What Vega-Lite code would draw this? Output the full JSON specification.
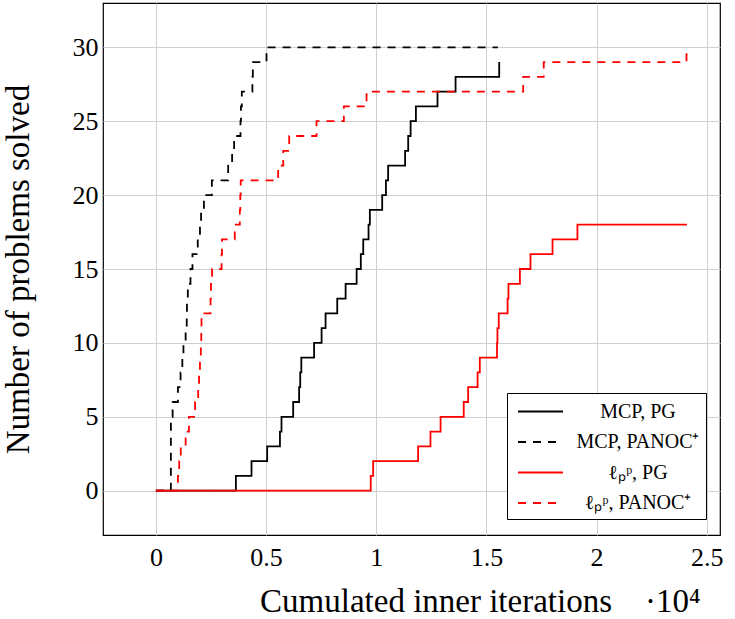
{
  "$schema": "https://vega.github.io/schema/vega-lite/v6.json",
  "width": 617,
  "height": 532,
  "autosize": {"type": "none"},
  "padding": {"left": 103, "top": 3, "right": 15, "bottom": 84},
  "background": "white",
  "config": {
    "font": "Liberation Serif",
    "view": {"stroke": "black", "strokeWidth": 1.2},
    "axis": {
      "grid": true,
      "gridColor": "#cfcfcf",
      "gridWidth": 1,
      "domain": false,
      "ticks": false,
      "labelFont": "Liberation Serif",
      "titleFont": "Liberation Serif",
      "labelFontSize": 26,
      "titleFontSize": 33,
      "titleFontWeight": "normal",
      "labelColor": "black",
      "titleColor": "black"
    },
    "legend": {
      "title": null,
      "orient": "none",
      "legendX": 404,
      "legendY": 390,
      "fillColor": "white",
      "strokeColor": "black",
      "padding": 6,
      "rowPadding": 7.5,
      "symbolType": "M-2,0H2",
      "symbolSize": 506,
      "symbolStrokeWidth": 2,
      "symbolOffset": 15,
      "labelFont": "Liberation Serif",
      "labelFontSize": 20,
      "labelColor": "black",
      "labelAlign": "center",
      "labelOffset": 85,
      "labelLimit": 300
    }
  },
  "data": {
    "values": [
      {"series": "MCP, PG", "x": 0, "y": 0},
      {"series": "MCP, PG", "x": 0.363, "y": 1},
      {"series": "MCP, PG", "x": 0.434, "y": 2},
      {"series": "MCP, PG", "x": 0.505, "y": 3},
      {"series": "MCP, PG", "x": 0.563, "y": 4},
      {"series": "MCP, PG", "x": 0.570, "y": 5},
      {"series": "MCP, PG", "x": 0.623, "y": 6},
      {"series": "MCP, PG", "x": 0.650, "y": 7},
      {"series": "MCP, PG", "x": 0.655, "y": 8},
      {"series": "MCP, PG", "x": 0.660, "y": 9},
      {"series": "MCP, PG", "x": 0.718, "y": 10},
      {"series": "MCP, PG", "x": 0.752, "y": 11},
      {"series": "MCP, PG", "x": 0.770, "y": 12},
      {"series": "MCP, PG", "x": 0.823, "y": 13},
      {"series": "MCP, PG", "x": 0.861, "y": 14},
      {"series": "MCP, PG", "x": 0.911, "y": 15},
      {"series": "MCP, PG", "x": 0.930, "y": 16},
      {"series": "MCP, PG", "x": 0.941, "y": 17},
      {"series": "MCP, PG", "x": 0.965, "y": 18},
      {"series": "MCP, PG", "x": 0.971, "y": 19},
      {"series": "MCP, PG", "x": 1.027, "y": 20},
      {"series": "MCP, PG", "x": 1.044, "y": 21},
      {"series": "MCP, PG", "x": 1.054, "y": 22},
      {"series": "MCP, PG", "x": 1.131, "y": 23},
      {"series": "MCP, PG", "x": 1.145, "y": 24},
      {"series": "MCP, PG", "x": 1.156, "y": 25},
      {"series": "MCP, PG", "x": 1.180, "y": 26},
      {"series": "MCP, PG", "x": 1.278, "y": 27},
      {"series": "MCP, PG", "x": 1.360, "y": 28},
      {"series": "MCP, PG", "x": 1.558, "y": 29},

      {"series": "MCP, PANOC⁺", "x": 0, "y": 0},
      {"series": "MCP, PANOC⁺", "x": 0.068, "y": 5},
      {"series": "MCP, PANOC⁺", "x": 0.076, "y": 6},
      {"series": "MCP, PANOC⁺", "x": 0.100, "y": 7},
      {"series": "MCP, PANOC⁺", "x": 0.112, "y": 8},
      {"series": "MCP, PANOC⁺", "x": 0.120, "y": 9},
      {"series": "MCP, PANOC⁺", "x": 0.125, "y": 10},
      {"series": "MCP, PANOC⁺", "x": 0.135, "y": 11},
      {"series": "MCP, PANOC⁺", "x": 0.140, "y": 12},
      {"series": "MCP, PANOC⁺", "x": 0.141, "y": 13},
      {"series": "MCP, PANOC⁺", "x": 0.145, "y": 14},
      {"series": "MCP, PANOC⁺", "x": 0.157, "y": 15},
      {"series": "MCP, PANOC⁺", "x": 0.166, "y": 16},
      {"series": "MCP, PANOC⁺", "x": 0.190, "y": 17},
      {"series": "MCP, PANOC⁺", "x": 0.200, "y": 18},
      {"series": "MCP, PANOC⁺", "x": 0.205, "y": 19},
      {"series": "MCP, PANOC⁺", "x": 0.218, "y": 20},
      {"series": "MCP, PANOC⁺", "x": 0.254, "y": 21},
      {"series": "MCP, PANOC⁺", "x": 0.328, "y": 22},
      {"series": "MCP, PANOC⁺", "x": 0.346, "y": 23},
      {"series": "MCP, PANOC⁺", "x": 0.355, "y": 24},
      {"series": "MCP, PANOC⁺", "x": 0.384, "y": 25},
      {"series": "MCP, PANOC⁺", "x": 0.386, "y": 26},
      {"series": "MCP, PANOC⁺", "x": 0.390, "y": 27},
      {"series": "MCP, PANOC⁺", "x": 0.438, "y": 28},
      {"series": "MCP, PANOC⁺", "x": 0.440, "y": 29},
      {"series": "MCP, PANOC⁺", "x": 0.502, "y": 30},
      {"series": "MCP, PANOC⁺", "x": 1.552, "y": 30},

      {"series": "ℓₚᵖ, PG", "x": 0, "y": 0},
      {"series": "ℓₚᵖ, PG", "x": 0.975, "y": 1},
      {"series": "ℓₚᵖ, PG", "x": 0.986, "y": 2},
      {"series": "ℓₚᵖ, PG", "x": 1.190, "y": 3},
      {"series": "ℓₚᵖ, PG", "x": 1.246, "y": 4},
      {"series": "ℓₚᵖ, PG", "x": 1.292, "y": 5},
      {"series": "ℓₚᵖ, PG", "x": 1.397, "y": 6},
      {"series": "ℓₚᵖ, PG", "x": 1.417, "y": 7},
      {"series": "ℓₚᵖ, PG", "x": 1.460, "y": 8},
      {"series": "ℓₚᵖ, PG", "x": 1.470, "y": 9},
      {"series": "ℓₚᵖ, PG", "x": 1.548, "y": 10},
      {"series": "ℓₚᵖ, PG", "x": 1.550, "y": 11},
      {"series": "ℓₚᵖ, PG", "x": 1.556, "y": 12},
      {"series": "ℓₚᵖ, PG", "x": 1.596, "y": 13},
      {"series": "ℓₚᵖ, PG", "x": 1.600, "y": 14},
      {"series": "ℓₚᵖ, PG", "x": 1.652, "y": 15},
      {"series": "ℓₚᵖ, PG", "x": 1.700, "y": 16},
      {"series": "ℓₚᵖ, PG", "x": 1.800, "y": 17},
      {"series": "ℓₚᵖ, PG", "x": 1.913, "y": 18},
      {"series": "ℓₚᵖ, PG", "x": 2.410, "y": 18},

      {"series": "ℓₚᵖ, PANOC⁺", "x": 0, "y": 0},
      {"series": "ℓₚᵖ, PANOC⁺", "x": 0.100, "y": 1},
      {"series": "ℓₚᵖ, PANOC⁺", "x": 0.106, "y": 2},
      {"series": "ℓₚᵖ, PANOC⁺", "x": 0.113, "y": 3},
      {"series": "ℓₚᵖ, PANOC⁺", "x": 0.135, "y": 4},
      {"series": "ℓₚᵖ, PANOC⁺", "x": 0.150, "y": 5},
      {"series": "ℓₚᵖ, PANOC⁺", "x": 0.178, "y": 6},
      {"series": "ℓₚᵖ, PANOC⁺", "x": 0.192, "y": 7},
      {"series": "ℓₚᵖ, PANOC⁺", "x": 0.196, "y": 8},
      {"series": "ℓₚᵖ, PANOC⁺", "x": 0.200, "y": 9},
      {"series": "ℓₚᵖ, PANOC⁺", "x": 0.204, "y": 10},
      {"series": "ℓₚᵖ, PANOC⁺", "x": 0.206, "y": 11},
      {"series": "ℓₚᵖ, PANOC⁺", "x": 0.207, "y": 12},
      {"series": "ℓₚᵖ, PANOC⁺", "x": 0.248, "y": 13},
      {"series": "ℓₚᵖ, PANOC⁺", "x": 0.250, "y": 14},
      {"series": "ℓₚᵖ, PANOC⁺", "x": 0.255, "y": 15},
      {"series": "ℓₚᵖ, PANOC⁺", "x": 0.298, "y": 16},
      {"series": "ℓₚᵖ, PANOC⁺", "x": 0.300, "y": 17},
      {"series": "ℓₚᵖ, PANOC⁺", "x": 0.358, "y": 18},
      {"series": "ℓₚᵖ, PANOC⁺", "x": 0.381, "y": 19},
      {"series": "ℓₚᵖ, PANOC⁺", "x": 0.383, "y": 20},
      {"series": "ℓₚᵖ, PANOC⁺", "x": 0.385, "y": 21},
      {"series": "ℓₚᵖ, PANOC⁺", "x": 0.555, "y": 22},
      {"series": "ℓₚᵖ, PANOC⁺", "x": 0.578, "y": 23},
      {"series": "ℓₚᵖ, PANOC⁺", "x": 0.605, "y": 24},
      {"series": "ℓₚᵖ, PANOC⁺", "x": 0.729, "y": 25},
      {"series": "ℓₚᵖ, PANOC⁺", "x": 0.853, "y": 26},
      {"series": "ℓₚᵖ, PANOC⁺", "x": 0.956, "y": 27},
      {"series": "ℓₚᵖ, PANOC⁺", "x": 1.667, "y": 28},
      {"series": "ℓₚᵖ, PANOC⁺", "x": 1.760, "y": 29},
      {"series": "ℓₚᵖ, PANOC⁺", "x": 2.408, "y": 30}
    ]
  },
  "mark": {"type": "line", "interpolate": "step-after", "strokeWidth": 1.8, "clip": true},
  "encoding": {
    "x": {
      "field": "x",
      "type": "quantitative",
      "scale": {"domain": [-0.24, 2.56], "nice": false, "zero": false},
      "axis": {
        "values": [0, 0.5, 1, 1.5, 2, 2.5],
        "format": "~g",
        "labelPadding": 9,
        "title": "Cumulated inner iterations\u2003·10⁴",
        "titleAnchor": "end",
        "titleAlign": "right",
        "titleX": 597,
        "titleY": 76,
        "titleBaseline": "alphabetic"
      }
    },
    "y": {
      "field": "y",
      "type": "quantitative",
      "scale": {"domain": [-3, 33], "nice": false, "zero": false},
      "axis": {
        "values": [0, 5, 10, 15, 20, 25, 30],
        "labelPadding": 5,
        "title": "Number of problems solved",
        "titlePadding": 37
      }
    },
    "order": {"field": "x", "type": "quantitative"},
    "color": {
      "field": "series",
      "type": "nominal",
      "scale": {
        "domain": ["MCP, PG", "MCP, PANOC⁺", "ℓₚᵖ, PG", "ℓₚᵖ, PANOC⁺"],
        "range": ["#000000", "#000000", "#ff0000", "#ff0000"]
      },
      "legend": {}
    },
    "strokeDash": {
      "field": "series",
      "type": "nominal",
      "scale": {
        "domain": ["MCP, PG", "MCP, PANOC⁺", "ℓₚᵖ, PG", "ℓₚᵖ, PANOC⁺"],
        "range": [[1, 0], [8, 7], [1, 0], [8, 7]]
      },
      "legend": {}
    }
  }
}
